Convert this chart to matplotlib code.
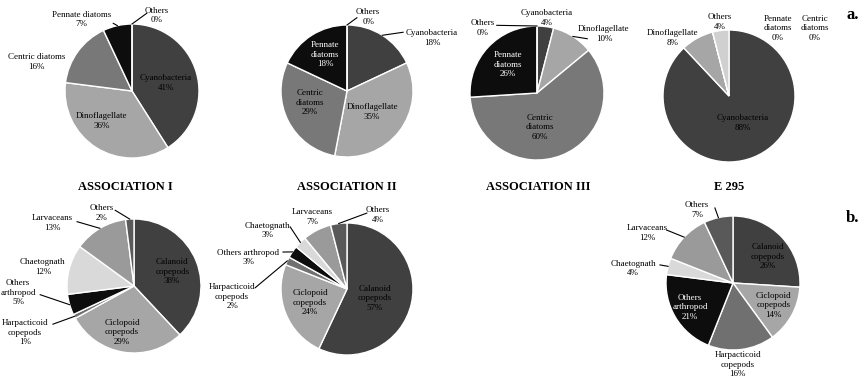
import numpy as np
import matplotlib.pyplot as plt

plt.rcParams['font.family'] = ['Liberation Serif', 'DejaVu Serif']

# ---- data ----
phyto_groups = ['Cyanobacteria', 'Dinoflagellate', 'Centric diatoms', 'Pennate diatoms', 'Others']
phyto_colors = ['#404040', '#a6a6a6', '#787878', '#0d0d0d', '#d0d0d0']
assoc1_phyto = [41, 36, 16, 7, 0]
assoc2_phyto = [18, 35, 29, 18, 0]
assoc3_phyto = [4, 10, 60, 26, 0]
e295_phyto = [88, 8, 0, 0, 4]

zoo_groups = ['Calanoid copepods', 'Ciclopoid copepods', 'Harpacticoid copepods',
              'Others arthropod', 'Chaetognath', 'Larvaceans', 'Others']
zoo_colors = ['#404040', '#a6a6a6', '#707070', '#0d0d0d', '#d9d9d9', '#9a9a9a', '#595959']
assoc1_zoo = [38, 29, 1, 5, 12, 13, 2]
assoc2_zoo = [57, 24, 2, 3, 3, 7, 4]
e295_zoo = [26, 14, 16, 21, 4, 12, 7]

titles = ['ASSOCIATION I', 'ASSOCIATION II', 'ASSOCIATION III', 'E 295']

# ---- layout: pie centre/radius in px, label (x, y, wrap, leader start) in pie radii ----
W, H = 867, 384

top_layout = [
    ((132, 91, 67), [(0.51, 0.12, False, None), (-0.45, -0.45, False, None),
                     (-1.42, 0.43, False, None), (-0.75, 1.07, False, (-0.28, 1.01)),
                     (0.37, 1.13, False, (0.22, 1.16))]),
    ((347, 91, 66), [(1.29, 0.80, False, (0.85, 0.89)), (0.38, -0.32, False, None),
                     (-0.56, -0.18, True, None), (-0.33, 0.55, True, None),
                     (0.32, 1.12, False, (0.15, 1.11))]),
    ((537, 93, 67), [(0.15, 1.12, False, None), (1.0, 0.88, False, (0.75, 0.81)),
                     (0.04, -0.51, True, None), (-0.43, 0.42, True, None),
                     (-0.81, 0.97, False, (-0.60, 1.01))]),
    ((729, 96, 66), [(0.21, -0.41, False, None), (-0.86, 0.88, False, None),
                     (1.30, 1.03, True, None), (0.74, 1.03, True, None),
                     (-0.14, 1.12, False, None)]),
]

bottom_layout = [
    ((134, 286, 67), [(0.57, 0.21, True, None), (-0.18, -0.69, True, None),
                      (-1.63, -0.70, True, (-1.21, -0.57)), (-1.73, -0.10, True, (-1.40, -0.13)),
                      (-1.36, 0.28, False, None), (-1.22, 0.94, False, (-0.85, 0.96)),
                      (-0.48, 1.09, False, (-0.28, 1.13))]),
    ((347, 289, 66), [(0.42, -0.14, True, None), (-0.56, -0.21, True, None),
                      (-1.74, -0.12, True, (-1.39, 0.02)), (-1.50, 0.48, False, (-0.97, 0.56)),
                      (-1.20, 0.89, False, (-0.86, 0.94)), (-0.52, 1.09, False, None),
                      (0.47, 1.12, False, (0.30, 1.15))]),
    None,
    ((733, 283, 67), [(0.52, 0.39, True, None), (0.60, -0.33, True, None),
                      (0.07, -1.22, True, None), (-0.64, -0.36, True, None),
                      (-1.49, 0.22, False, (-1.09, 0.27)), (-1.28, 0.75, False, (-0.99, 0.79)),
                      (-0.54, 1.09, False, (-0.27, 1.12))]),
]

fig = plt.figure(figsize=(W / 100, H / 100), dpi=100)


def draw_pie(values, groups, colors, geom, labels):
    cx, cy, r = geom
    ax = fig.add_axes([(cx - r) / W, 1 - (cy + r) / H, 2 * r / W, 2 * r / H])
    wedges, _ = ax.pie(values, colors=colors, startangle=90, counterclock=False, radius=1,
                       wedgeprops=dict(edgecolor='white', linewidth=1))
    ax.set_xlim(-1, 1)
    ax.set_ylim(-1, 1)
    ax.axis('off')
    for w, v, g, c, (lx, ly, wrap, lead) in zip(wedges, values, groups, colors, labels):
        name = g.replace(' ', '\n') if wrap else g
        tc = 'white' if c == '#0d0d0d' and np.hypot(lx, ly) < 1 else 'black'
        ax.text(lx, ly, f'{name}\n{v}%', ha='center', va='center', fontsize=6.5,
                color=tc, linespacing=1.25, clip_on=False)
        if lead is not None:
            mid = np.deg2rad((w.theta1 + w.theta2) / 2)
            ax.plot([lead[0], np.cos(mid)], [lead[1], np.sin(mid)], color='black',
                    lw=0.8, clip_on=False)


top_data = [assoc1_phyto, assoc2_phyto, assoc3_phyto, e295_phyto]
for vals, (geom, labels) in zip(top_data, top_layout):
    draw_pie(vals, phyto_groups, phyto_colors, geom, labels)

bottom_data = [assoc1_zoo, assoc2_zoo, None, e295_zoo]
for vals, lay in zip(bottom_data, bottom_layout):
    if lay is None:
        continue
    draw_pie(vals, zoo_groups, zoo_colors, lay[0], lay[1])

for t, x in zip(titles, [125, 347, 538, 729]):
    fig.text(x / W, 1 - 187 / H, t, ha='center', va='center', fontsize=9, fontweight='bold')

fig.text(853 / W, 1 - 15 / H, 'a.', ha='center', va='center', fontsize=12, fontweight='bold')
fig.text(853 / W, 1 - 218 / H, 'b.', ha='center', va='center', fontsize=12, fontweight='bold')

fig.savefig('out.png', dpi=100)
